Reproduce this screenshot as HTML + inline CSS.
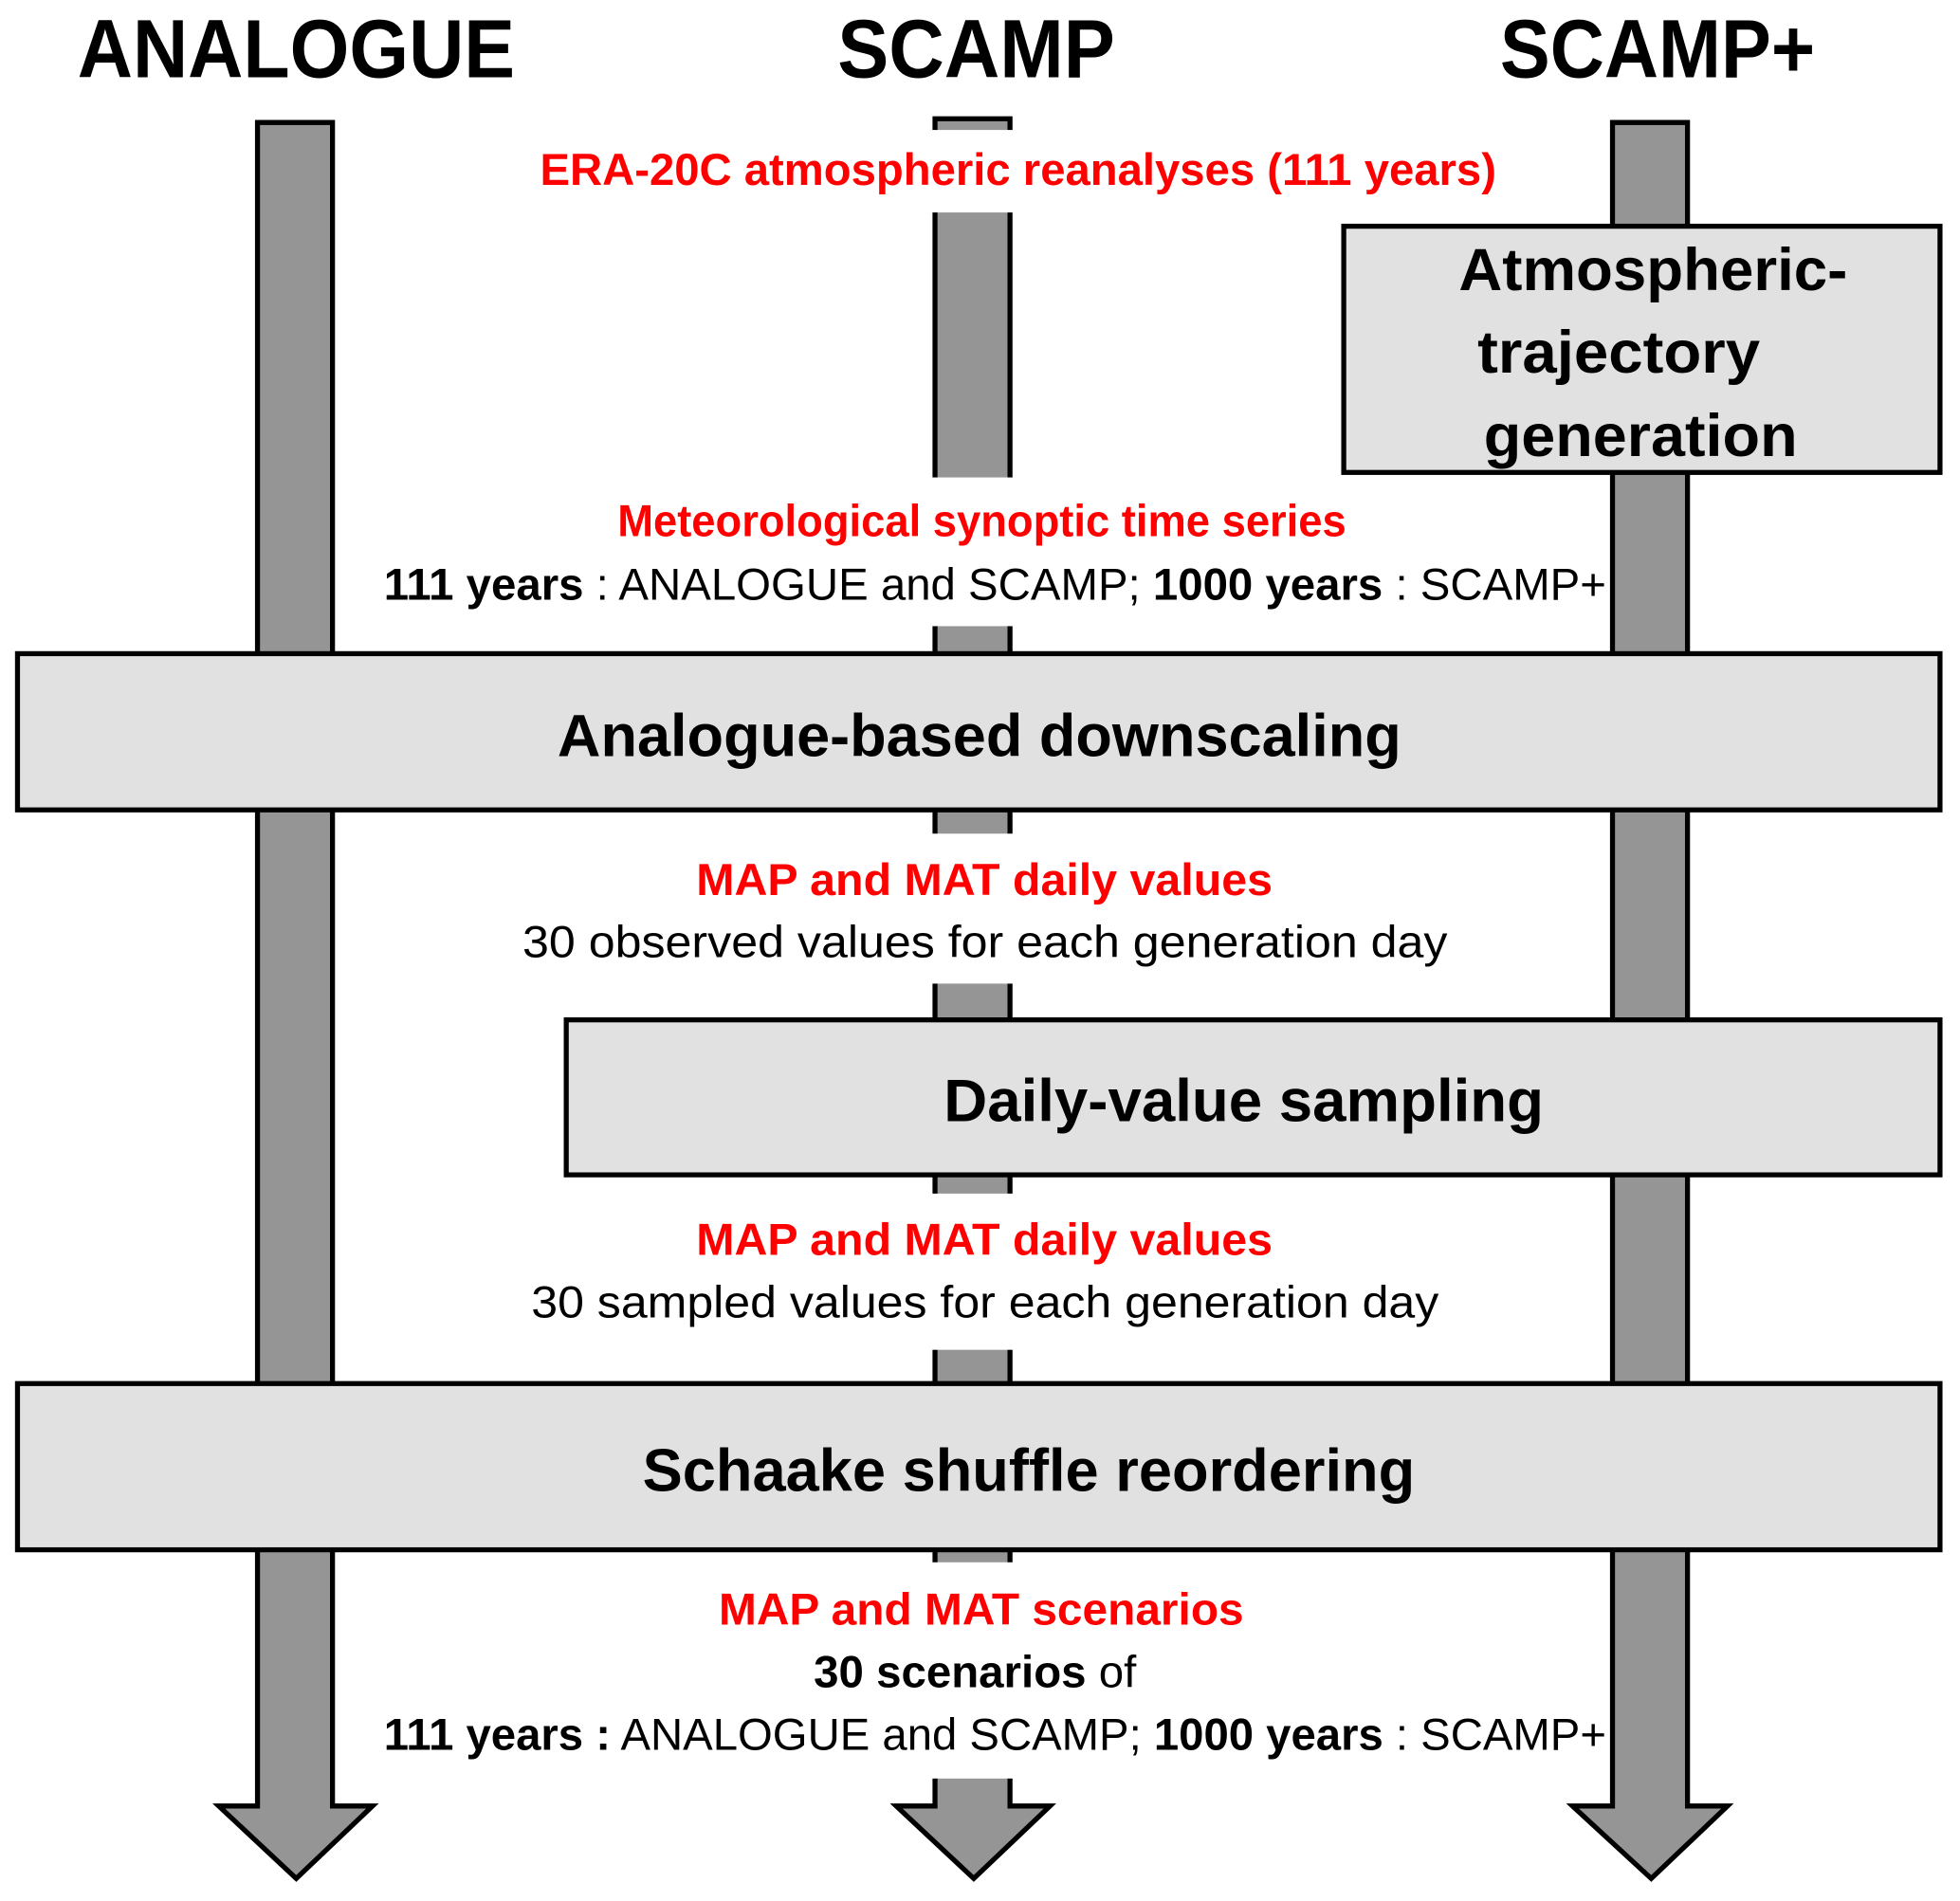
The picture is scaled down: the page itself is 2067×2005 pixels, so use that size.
<!DOCTYPE html>
<html><head><style>html,body{margin:0;padding:0;background:#fff;}svg{display:block;}</style></head>
<body>
<svg width="2067" height="2005" viewBox="0 0 1568 1521" preserveAspectRatio="none" xmlns="http://www.w3.org/2000/svg" font-family="'Liberation Sans Narrow','Liberation Sans',sans-serif">
<rect width="1568" height="1521" fill="#fff"/>
<g fill="#959595" stroke="#000" stroke-width="4">
  <polygon points="206,98 266,98 266,1445 298,1445 237,1503 175,1445 206,1445"/>
  <polygon points="748,95 808,95 808,1445 840,1445 779,1503 717,1445 748,1445"/>
  <polygon points="1290,98 1350,98 1350,1445 1382,1445 1321,1503 1258,1445 1290,1445"/>
</g>
<g fill="#fff">
  <rect x="744" y="104" width="68" height="66"/>
  <rect x="744" y="382" width="68" height="119"/>
  <rect x="744" y="667" width="68" height="120"/>
  <rect x="744" y="955" width="68" height="125"/>
  <rect x="744" y="1250" width="68" height="173"/>
</g>
<g fill="#e1e1e1" stroke="#000" stroke-width="4">
  <rect x="1075" y="181" width="477" height="197"/>
  <rect x="14" y="523" width="1538" height="125"/>
  <rect x="453" y="816" width="1099" height="124"/>
  <rect x="14" y="1107" width="1538" height="133"/>
</g>
<g font-weight="bold" font-size="66" fill="#000">
  <text x="62" y="62" textLength="350" lengthAdjust="spacingAndGlyphs">ANALOGUE</text>
  <text x="670" y="62" textLength="222" lengthAdjust="spacingAndGlyphs">SCAMP</text>
  <text x="1200" y="62" textLength="252" lengthAdjust="spacingAndGlyphs">SCAMP+</text>
</g>
<g font-weight="bold" font-size="48" fill="#000">
  <text x="1167" y="232" textLength="311" lengthAdjust="spacingAndGlyphs">Atmospheric-</text>
  <text x="1182" y="298" textLength="226" lengthAdjust="spacingAndGlyphs">trajectory</text>
  <text x="1187" y="365" textLength="251" lengthAdjust="spacingAndGlyphs">generation</text>
  <text x="446" y="605" textLength="675" lengthAdjust="spacingAndGlyphs">Analogue-based downscaling</text>
  <text x="755" y="897" textLength="480" lengthAdjust="spacingAndGlyphs">Daily-value sampling</text>
  <text x="514" y="1193" textLength="618" lengthAdjust="spacingAndGlyphs">Schaake shuffle reordering</text>
</g>
<g font-size="36" fill="#ff0000" font-weight="bold">
  <text x="432" y="148" textLength="765" lengthAdjust="spacingAndGlyphs">ERA-20C atmospheric reanalyses (111 years)</text>
  <text x="494" y="429" textLength="583" lengthAdjust="spacingAndGlyphs">Meteorological synoptic time series</text>
  <text x="557" y="716" textLength="461" lengthAdjust="spacingAndGlyphs">MAP and MAT daily values</text>
  <text x="557" y="1004" textLength="461" lengthAdjust="spacingAndGlyphs">MAP and MAT daily values</text>
  <text x="575" y="1300" textLength="420" lengthAdjust="spacingAndGlyphs">MAP and MAT scenarios</text>
</g>
<g font-size="36" fill="#000">
  <text x="307" y="480" textLength="978" lengthAdjust="spacingAndGlyphs"><tspan font-weight="bold">111 years</tspan> : ANALOGUE and SCAMP; <tspan font-weight="bold">1000 years</tspan> : SCAMP+</text>
  <text x="418" y="766" textLength="740" lengthAdjust="spacingAndGlyphs">30 observed values for each generation day</text>
  <text x="425" y="1054" textLength="726" lengthAdjust="spacingAndGlyphs">30 sampled values for each generation day</text>
  <text x="651" y="1350" textLength="258" lengthAdjust="spacingAndGlyphs"><tspan font-weight="bold">30 scenarios</tspan> of</text>
  <text x="307" y="1400" textLength="978" lengthAdjust="spacingAndGlyphs"><tspan font-weight="bold">111 years :</tspan> ANALOGUE and SCAMP; <tspan font-weight="bold">1000 years</tspan> : SCAMP+</text>
</g>
</svg>
</body></html>
